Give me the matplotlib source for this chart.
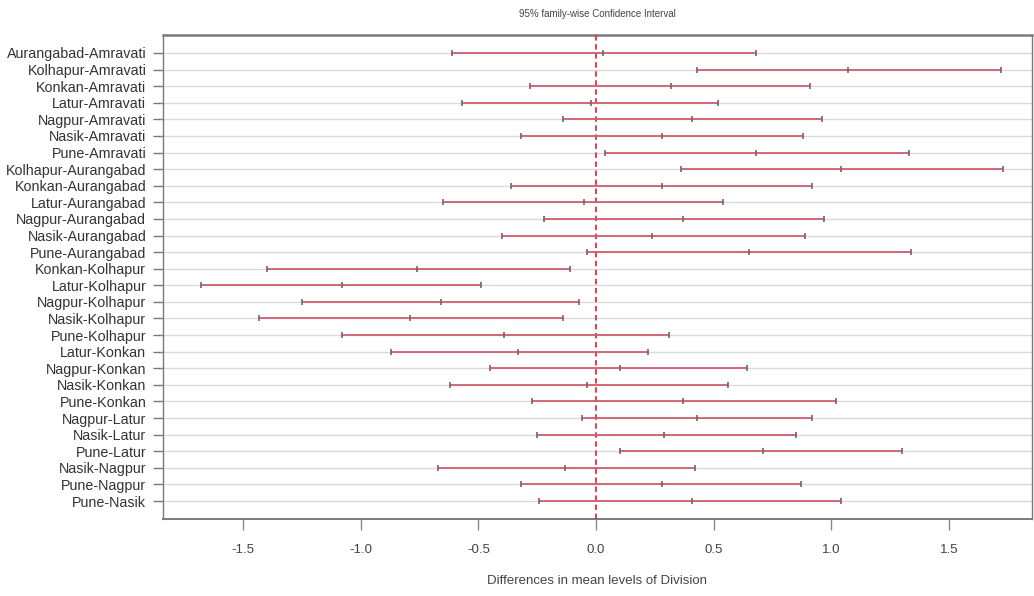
import matplotlib
matplotlib.use("Agg")
import matplotlib.pyplot as plt

plt.rcParams['font.family'] = ['Liberation Sans', 'DejaVu Sans']

comparisons = [
    "Aurangabad-Amravati", "Kolhapur-Amravati", "Konkan-Amravati", "Latur-Amravati",
    "Nagpur-Amravati", "Nasik-Amravati", "Pune-Amravati", "Kolhapur-Aurangabad",
    "Konkan-Aurangabad", "Latur-Aurangabad", "Nagpur-Aurangabad", "Nasik-Aurangabad",
    "Pune-Aurangabad", "Konkan-Kolhapur", "Latur-Kolhapur", "Nagpur-Kolhapur",
    "Nasik-Kolhapur", "Pune-Kolhapur", "Latur-Konkan", "Nagpur-Konkan",
    "Nasik-Konkan", "Pune-Konkan", "Nagpur-Latur", "Nasik-Latur",
    "Pune-Latur", "Nasik-Nagpur", "Pune-Nagpur", "Pune-Nasik",
]
diff = [0.03, 1.07, 0.32, -0.02, 0.41, 0.28, 0.68, 1.04,
        0.28, -0.05, 0.37, 0.24, 0.65, -0.76, -1.08, -0.66,
        -0.79, -0.39, -0.33, 0.10, -0.04, 0.37, 0.43, 0.29,
        0.71, -0.13, 0.28, 0.41]
lwr = [-0.61, 0.43, -0.28, -0.57, -0.14, -0.32, 0.04, 0.36,
       -0.36, -0.65, -0.22, -0.40, -0.04, -1.40, -1.68, -1.25,
       -1.43, -1.08, -0.87, -0.45, -0.62, -0.27, -0.06, -0.25,
       0.10, -0.67, -0.32, -0.24]
upr = [0.68, 1.72, 0.91, 0.52, 0.96, 0.88, 1.33, 1.73,
       0.92, 0.54, 0.97, 0.89, 1.34, -0.11, -0.49, -0.07,
       -0.14, 0.31, 0.22, 0.64, 0.56, 1.02, 0.92, 0.85,
       1.30, 0.42, 0.87, 1.04]
xticks = [-1.5, -1.0, -0.5, 0.0, 0.5, 1.0, 1.5]
title = "95% family-wise Confidence Interval"
xlabel = "Differences in mean levels of Division"

n = len(comparisons)
ypos = list(range(n, 0, -1))

fig = plt.figure(figsize=(10.34, 5.96), dpi=100)
ax = fig.add_axes([163 / 1034, 1 - 519 / 596, (1032 - 163) / 1034, (519 - 35) / 596])

# grid lines at each row
for y in ypos:
    ax.axhline(y, color="#dadada", lw=1.0, zorder=1)

# zero line
ax.axvline(0, color="#e0303f", lw=1.3, ls=(0, (3, 2)), zorder=3)

line_col = "#cf5f6e"
mark_col = "#75626a"
ax.hlines(ypos, lwr, upr, color=line_col, lw=1.3, zorder=4)
for arr in (lwr, upr, diff):
    ax.plot(arr, ypos, ls="none", marker="|", ms=5, mew=1.2, color=mark_col, zorder=5)

ax.set_xlim(-1.84, 1.853)
ax.set_ylim(1 - 0.04 * (n - 1), n + 0.04 * (n - 1))

ax.set_yticks(ypos)
ax.set_yticklabels(comparisons, fontsize=10.3, color="#333333")
ax.set_xticks(xticks)
ax.set_xticklabels([f"{t:.1f}" for t in xticks], fontsize=9.5, color="#444444")
ax.tick_params(axis="y", length=7, width=1.0, color="#8a7076", pad=5)
ax.tick_params(axis="x", length=8, width=1.0, color="#888888", pad=10)

for side, sp in ax.spines.items():
    sp.set_color("#7a7a7a")
    sp.set_linewidth(1.0)
ax.spines["top"].set_linewidth(1.8)
ax.spines["bottom"].set_linewidth(1.4)

fig.text(597 / 1034, 1 - 14 / 596, title, ha="center", va="center", fontsize=7, color="#444444")
fig.text(597 / 1034, 1 - 581 / 596, xlabel, ha="center", va="center", fontsize=9.5, color="#444444")

fig.savefig("out.png", dpi=100)
